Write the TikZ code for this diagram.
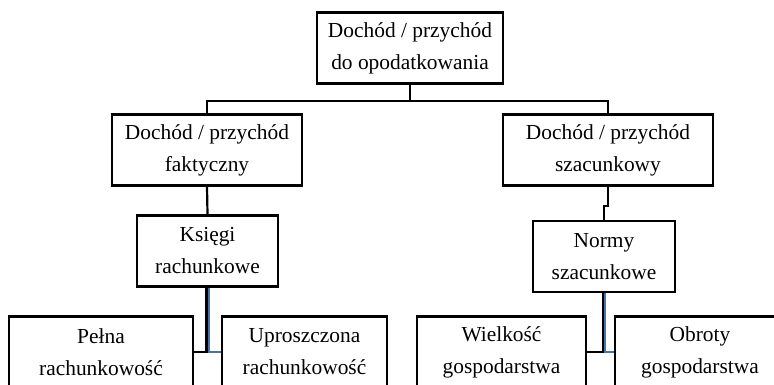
\documentclass[tikz,border=0pt]{standalone}
\usepackage{fontspec}
\setmainfont{Liberation Serif}
\usepackage{tikz}
\usetikzlibrary{calc}
\definecolor{C0}{HTML}{4A72A8}
\tikzstyle{box} = [draw, line width=2.3pt, minimum height=71pt, inner sep=0pt, align=center, font={\fontsize{21.4}{32}\selectfont}]
\tikzstyle{conn} = [line width=2.2pt]

\begin{document}
\begin{tikzpicture}[x=1pt, y=-1pt]
	\clip (0,0) rectangle (774,384) ;
	
	\node[box, minimum width=186pt] (top) at (410,48) {Dochód / przychód\\do opodatkowania} ;
	
	\node[box, minimum width=190pt] (fakt) at (207,150) {Dochód / przychód\\faktyczny} ;
	\node[box, minimum width=210pt] (szac) at (608,150) {Dochód / przychód\\szacunkowy} ;
	
	\node[box, minimum width=141pt] (ksiegi) at (207.5,251) {Księgi\\rachunkowe} ;
	\node[box, minimum width=142pt] (normy) at (604,256.5) {Normy\\szacunkowe} ;
	
	\node[box, minimum width=184pt] (pelna) at (101,352) {Pełna\\rachunkowość} ;
	\node[box, minimum width=165pt] (upr) at (304.5,352) {Uproszczona\\rachunkowość} ;
	\node[box, minimum width=169pt] (wielk) at (501.5,352) {Wielkość\\gospodarstwa} ;
	\node[box, minimum width=170pt] (obroty) at (700,352) {Obroty\\gospodarstwa} ;
	
	\draw[conn] (top.south) -- ++(0,16) -| (fakt.north) ;
	\draw[conn] (top.south) -- ++(0,16) -| (szac.north) ;
	\draw[conn] (fakt.south) -- (ksiegi.north) ;
	\draw[conn] (szac.south) -- ++(0,19) -| (normy.north) ;
	
	\draw[conn, C0] ([xshift=1pt]ksiegi.south) |- (upr.west) ;
	\draw[conn] ([xshift=-1pt]ksiegi.south) |- (pelna.east) ;
	\draw[conn, C0] ([xshift=1pt]normy.south) |- (obroty.west) ;
	\draw[conn] ([xshift=-1pt]normy.south) |- (wielk.east) ;
\end{tikzpicture}
\end{document}
